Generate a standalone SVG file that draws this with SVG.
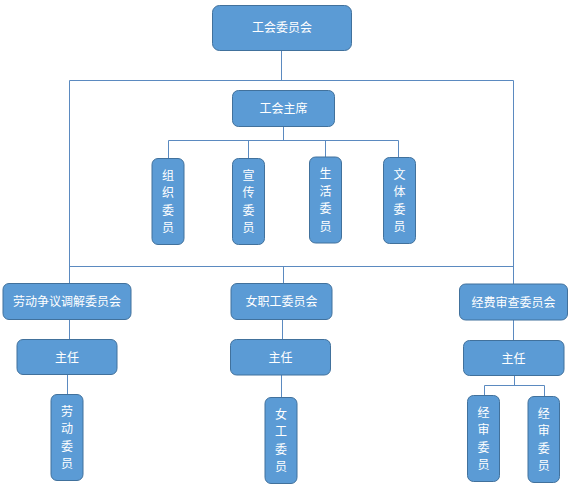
<svg xmlns="http://www.w3.org/2000/svg" width="571" height="490" viewBox="0 0 571 490">
<style>
.n{fill:#5b9bd5;stroke:#41719c;stroke-width:1}
.t{fill:#fff;font-family:"Noto Sans CJK SC","Noto Sans CJK JP",sans-serif;font-size:12px;text-anchor:middle}
.c{fill:none;stroke:#5b8ac0;stroke-width:1}
</style>
<rect width="571" height="490" fill="#fff"/>
<g id="connectors" class="c">
<path d="M281.5 50V80.5M69.5 80.5H513.5M69.5 80.5V283M513.5 80.5V284M69.5 266.5H513.5"/>
<path d="M283.5 126V140.5M168.5 140.5H398.5M168.5 140.5V158M248.5 140.5V158M325.5 140.5V157M398.5 140.5V157"/>
<path d="M69.5 319V339M67.5 374V394"/>
<path d="M283.5 266.5V283M282.5 319V339M281.5 375V397"/>
<path d="M513.5 320V340M514.5 376V385.5M484.5 385.5H544.5M484.5 385.5V395M544.5 385.5V396"/>
</g>
<g id="n-top"><rect class="n" x="212.5" y="5.5" width="139" height="45" rx="7"/><text class="t" x="282" y="32">工会委员会</text></g>
<g id="n-chair"><rect class="n" x="232.5" y="90.5" width="102" height="36" rx="6"/><text class="t" x="283.5" y="113">工会主席</text></g>
<g id="n-zz"><rect class="n" x="152" y="158.5" width="32" height="86" rx="6"/><text class="t" x="168" y="179.5">组</text><text class="t" x="168" y="197">织</text><text class="t" x="168" y="214.5">委</text><text class="t" x="168" y="232">员</text></g>
<g id="n-xc"><rect class="n" x="232.5" y="158.5" width="32" height="86" rx="6"/><text class="t" x="248.5" y="179.5">宣</text><text class="t" x="248.5" y="197">传</text><text class="t" x="248.5" y="214.5">委</text><text class="t" x="248.5" y="232">员</text></g>
<g id="n-sh"><rect class="n" x="309.5" y="157" width="32" height="86" rx="6"/><text class="t" x="325.5" y="178">生</text><text class="t" x="325.5" y="195.5">活</text><text class="t" x="325.5" y="213">委</text><text class="t" x="325.5" y="230.5">员</text></g>
<g id="n-wt"><rect class="n" x="383.5" y="157.5" width="32" height="86" rx="6"/><text class="t" x="399.5" y="178.5">文</text><text class="t" x="399.5" y="196">体</text><text class="t" x="399.5" y="213.5">委</text><text class="t" x="399.5" y="231">员</text></g>
<g id="n-ld"><rect class="n" x="3" y="283.5" width="128" height="36" rx="6"/><text class="t" x="67" y="306">劳动争议调解委员会</text></g>
<g id="n-nzg"><rect class="n" x="231" y="283.5" width="101" height="36" rx="6"/><text class="t" x="281.5" y="306">女职工委员会</text></g>
<g id="n-jf"><rect class="n" x="459.5" y="284" width="108" height="36" rx="6"/><text class="t" x="513.5" y="306.5">经费审查委员会</text></g>
<g id="n-zr1"><rect class="n" x="17" y="339.5" width="100" height="35" rx="6"/><text class="t" x="67" y="361.5">主任</text></g>
<g id="n-zr2"><rect class="n" x="230.5" y="339.5" width="100" height="35.5" rx="6"/><text class="t" x="280.5" y="362">主任</text></g>
<g id="n-zr3"><rect class="n" x="463.5" y="340.5" width="100.5" height="35" rx="6"/><text class="t" x="513.5" y="362.5">主任</text></g>
<g id="n-ldwy"><rect class="n" x="51" y="394.5" width="32" height="86" rx="6"/><text class="t" x="67" y="415.5">劳</text><text class="t" x="67" y="433">动</text><text class="t" x="67" y="450.5">委</text><text class="t" x="67" y="468">员</text></g>
<g id="n-ngwy"><rect class="n" x="265" y="397.5" width="32" height="86" rx="6"/><text class="t" x="281" y="418.5">女</text><text class="t" x="281" y="436">工</text><text class="t" x="281" y="453.5">委</text><text class="t" x="281" y="471">员</text></g>
<g id="n-js1"><rect class="n" x="467.5" y="395.5" width="32" height="86" rx="6"/><text class="t" x="483.5" y="416.5">经</text><text class="t" x="483.5" y="434">审</text><text class="t" x="483.5" y="451.5">委</text><text class="t" x="483.5" y="469">员</text></g>
<g id="n-js2"><rect class="n" x="528" y="396.5" width="31.5" height="86" rx="6"/><text class="t" x="543.75" y="417.5">经</text><text class="t" x="543.75" y="435">审</text><text class="t" x="543.75" y="452.5">委</text><text class="t" x="543.75" y="470">员</text></g>
</svg>
